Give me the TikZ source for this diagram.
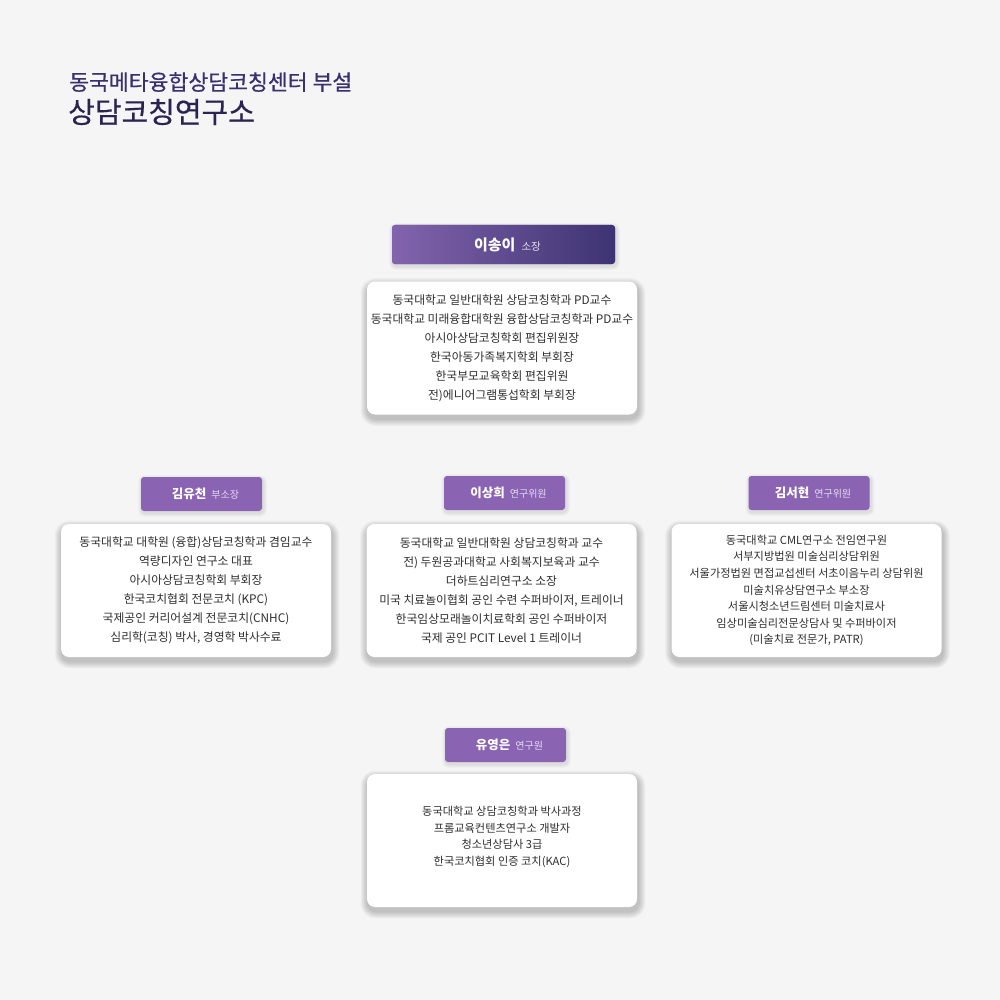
\documentclass[tikz,border=0pt]{standalone}
\usepackage{fontspec}
\setmainfont{Noto Sans CJK KR}
\newfontfamily\titlefont[FakeBold=0.5]{Noto Sans CJK KR}
\definecolor{bgc}{HTML}{F5F5F5}
\definecolor{hdr}{HTML}{8A63B3}
\definecolor{gradL}{HTML}{8264AD}
\definecolor{gradR}{HTML}{3D3372}
\definecolor{titleA}{HTML}{3A3070}
\definecolor{titleB}{HTML}{2B2452}
\definecolor{bodytxt}{HTML}{2E2E2E}
\definecolor{subtxt}{HTML}{E6DDF2}
\pgfdeclarelayer{bglayer}
\pgfdeclarelayer{shadowlayer}
\pgfsetlayers{bglayer,shadowlayer,main}
\tikzset{
  card/.style={fill=white, rounded corners=8pt, minimum width=270pt, minimum height=133pt,
    align=center, text=bodytxt, inner sep=0pt},
  cardtext/.style={align=center, text=bodytxt, inner sep=0pt},
  hdrbox/.style={fill=hdr, rounded corners=3pt, minimum width=121pt, minimum height=34pt,
    text=white, inner sep=0pt},
  bodyfont/.style={font=\fontsize{11.8}{19}\selectfont},
}
% #1 node, #2 base corner radius, #3 steps, #4 y offset, #5 opacity per step
\newcommand{\softshadow}[5]{%
  \begin{pgfonlayer}{shadowlayer}
  \foreach \i in {1,...,#3}{%
    \pgfmathsetmacro{\rr}{\i*0.9}%
    \pgfmathsetmacro{\rc}{#2+\i*0.9}%
    \fill[black, opacity=#5, rounded corners=\rc pt]
      ([shift={(1-\rr,#4-\rr)}]#1.north west) rectangle ([shift={(1+\rr,#4+\rr)}]#1.south east);
  }%
  \end{pgfonlayer}}
\newcommand{\hname}[2]{\hspace*{8pt}{\fontsize{12.5}{15}\selectfont\bfseries #1}\hspace{5pt}{\fontsize{10}{12}\selectfont\color{subtxt}#2}}
\begin{document}
\begin{tikzpicture}[x=1pt,y=-1pt]
\begin{pgfonlayer}{bglayer}
\fill[bgc] (0,0) rectangle (1000,1000);
\end{pgfonlayer}
\useasboundingbox (0,0) rectangle (1000,1000);

% title
\node[anchor=west, text=titleA, font=\titlefont\fontsize{21.6}{24}\selectfont, inner sep=0pt] (t1) at (69,82) {동국메타융합상담코칭센터 부설};
\node[anchor=west, text=titleB, font=\titlefont\fontsize{29}{32}\selectfont, inner sep=0pt] (t2) at (68,112) {상담코칭연구소};

% director
\node[hdrbox, left color=gradL, right color=gradR, minimum width=223pt, minimum height=39pt] (h0) at (503.5,244.5) {\hspace*{8pt}{\fontsize{15}{17}\selectfont\bfseries 이송이}\hspace{6pt}{\fontsize{10.5}{12}\selectfont\color{subtxt}소장}};
\node[card, bodyfont] (c0) at (502,348) {동국대학교 일반대학원 상담코칭학과 PD교수\\동국대학교 미래융합대학원 융합상담코칭학과 PD교수\\아시아상담코칭학회 편집위원장\\한국아동가족복지학회 부회장\\한국부모교육학회 편집위원\\전)에니어그램통섭학회 부회장};

% left
\node[hdrbox] (h1) at (201.5,494) {\hname{김유천}{부소장}};
\node[card, bodyfont] (c1) at (196,590.5) {동국대학교 대학원 (융합)상담코칭학과 겸임교수\\역량디자인 연구소 대표\\아시아상담코칭학회 부회장\\한국코치협회 전문코치 (KPC)\\국제공인 커리어설계 전문코치(CNHC)\\심리학(코칭) 박사, 경영학 박사수료};

% middle
\node[hdrbox] (h2) at (504.5,493) {\hname{이상희}{연구위원}};
\node[card, bodyfont] (c2) at (501.5,590.5) {동국대학교 일반대학원 상담코칭학과 교수\\전) 두원공과대학교 사회복지보육과 교수\\더하트심리연구소 소장\\미국 치료놀이협회 공인 수련 수퍼바이저, 트레이너\\한국임상모래놀이치료학회 공인 수퍼바이저\\국제 공인 PCIT Level 1 트레이너};

% right
\node[hdrbox] (h3) at (809,493) {\hname{김서현}{연구위원}};
\node[card, font=\fontsize{11.2}{16.6}\selectfont] (c3) at (806.5,590.5) {동국대학교 CML연구소 전임연구원\\서부지방법원 미술심리상담위원\\서울가정법원 면접교섭센터 서초이음누리 상담위원\\미술치유상담연구소 부소장\\서울시청소년드림센터 미술치료사\\임상미술심리전문상담사 및 수퍼바이저\\(미술치료 전문가, PATR)};

% bottom
\node[hdrbox] (h4) at (505.5,745) {\hname{유영은}{연구원}};
\node[card] (c4) at (502,840.5) {};
\node[cardtext, font=\fontsize{11.2}{16.8}\selectfont] (c4t) at (502,837) {동국대학교 상담코칭학과 박사과정\\프롬교육컨텐츠연구소 개발자\\청소년상담사 3급\\한국코치협회 인증 코치(KAC)};

\softshadow{h0}{3}{4}{2}{0.025}
\softshadow{h1}{3}{4}{2}{0.025}
\softshadow{h2}{3}{4}{2}{0.025}
\softshadow{h3}{3}{4}{2}{0.025}
\softshadow{h4}{3}{4}{2}{0.025}
\softshadow{c0}{8}{8}{4}{0.026}
\softshadow{c1}{8}{8}{4}{0.026}
\softshadow{c2}{8}{8}{4}{0.026}
\softshadow{c3}{8}{8}{4}{0.026}
\softshadow{c4}{8}{8}{4}{0.026}
\end{tikzpicture}
\end{document}
